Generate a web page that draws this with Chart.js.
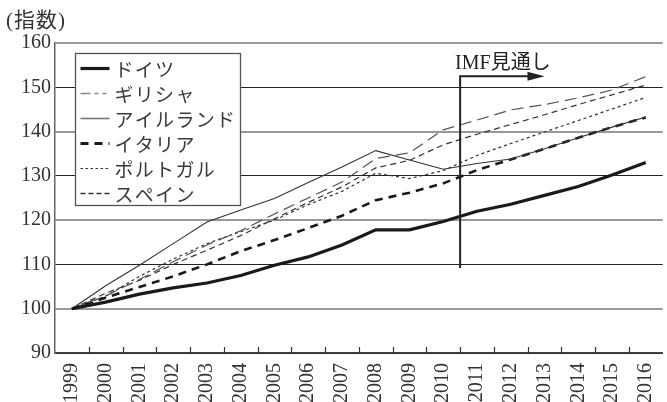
<!DOCTYPE html>
<html>
<head>
<meta charset="utf-8">
<script src="https://cdn.jsdelivr.net/npm/chart.js@4.4.1/dist/chart.umd.min.js"></script>
<style>
  html, body { margin: 0; padding: 0; background: #fff; overflow: hidden; }
  #wrap { position: relative; width: 680px; height: 402px; }
</style>
</head>
<body>
<div id="wrap"><canvas id="c"></canvas></div>
<script>
const years = ['1999','2000','2001','2002','2003','2004','2005','2006','2007','2008','2009','2010','2011','2012','2013','2014','2015','2016'];
const seriesNames = ['ドイツ','ギリシャ','アイルランド','イタリア','ポルトガル','スペイン'];
const germany  = [100,101.5,103.3,104.7,105.8,107.5,109.8,111.7,114.4,117.8,117.8,119.7,122.0,123.6,125.6,127.6,130.2,133.0];
const greece   = [100,102.9,106.6,110.6,114.4,117.6,121.4,125.0,128.6,133.9,135.2,140.4,142.6,144.9,146.1,147.6,149.4,152.4];
const ireland  = [100,105.2,109.8,114.7,119.6,122.3,124.9,128.5,132.0,135.7,133.6,131.5,132.8,133.8,136.1,138.6,141.0,143.3];
const italy    = [100,102.5,104.9,107.3,110.0,113.0,115.5,118.2,121.0,124.5,126.2,128.3,131.3,133.7,136.1,138.6,141.0,143.2];
const portugal = [100,102.8,107.3,111.2,114.7,117.4,120.0,123.5,126.5,130.6,129.4,131.2,134.6,137.3,139.9,142.5,145.1,147.7];
const spain    = [100,103.5,106.4,110.0,113.2,116.5,120.3,124.0,127.5,131.8,133.5,137.0,139.4,141.6,143.8,146.1,148.3,150.5];
const yMin = 90, yMax = 160, yStep = 10;
const yTitle = '(指数)';
const forecastLabel = 'IMF見通し';

const styles = [
  { color: '#1a1a1a', width: 3.2, dash: [] },
  { color: '#555555', width: 1.2, dash: [12, 6] },
  { color: '#333333', width: 1.1, dash: [] },
  { color: '#1a1a1a', width: 2.6, dash: [8, 6] },
  { color: '#333333', width: 1.2, dash: [3, 3] },
  { color: '#333333', width: 1.2, dash: [6, 4] }
];
const legendStyles = [
  { color: '#1a1a1a', width: 3.2, dash: [] },
  { color: '#888888', width: 1.6, dash: [10, 4, 4, 4, 4, 4] },
  { color: '#777777', width: 1.6, dash: [] },
  { color: '#1a1a1a', width: 2.8, dash: [8, 6] },
  { color: '#333333', width: 1.2, dash: [2.5, 2.5] },
  { color: '#333333', width: 1.4, dash: [5, 3] }
];
const allSeries = [germany, greece, ireland, italy, portugal, spain];

const datasets = allSeries.map((d, i) => ({
  label: seriesNames[i],
  data: d,
  borderColor: styles[i].color,
  borderWidth: styles[i].width,
  borderDash: styles[i].dash,
  pointRadius: 0,
  tension: 0,
  fill: false
}));

const overlay = {
  id: 'overlay',
  afterDatasetsDraw(chart) {
    const ctx = chart.ctx;
    const xs = chart.scales.x, ys = chart.scales.y;
    const area = chart.chartArea;
    ctx.save();
    // inward ticks on x axis between categories
    ctx.strokeStyle = '#333';
    ctx.lineWidth = 1.2;
    ctx.setLineDash([]);
    for (let i = 0; i < years.length - 1; i++) {
      const x = Math.round((xs.getPixelForValue(i) + xs.getPixelForValue(i + 1)) / 2) + 0.5;
      ctx.beginPath();
      ctx.moveTo(x, area.bottom);
      ctx.lineTo(x, area.bottom - 6);
      ctx.stroke();
    }
    // legend box
    const bx = 75.5, by = 53.5, bw = 165, bh = 152;
    ctx.fillStyle = '#fff';
    ctx.fillRect(bx, by, bw, bh);
    ctx.strokeStyle = '#555';
    ctx.lineWidth = 1.3;
    ctx.strokeRect(bx, by, bw, bh);
    ctx.font = '19px "Noto Sans CJK JP"';
    ctx.textBaseline = 'middle';
    ctx.textAlign = 'left';
    try { ctx.letterSpacing = '1.3px'; } catch (e) {}
    seriesNames.forEach((name, i) => {
      const yy = by + 15 + i * 25;
      const st = legendStyles[i];
      ctx.strokeStyle = st.color;
      ctx.lineWidth = st.width;
      ctx.setLineDash(st.dash);
      ctx.beginPath();
      ctx.moveTo(bx + 5, yy);
      ctx.lineTo(bx + 34, yy);
      ctx.stroke();
      ctx.setLineDash([]);
      ctx.fillStyle = '#3a3a3a';
      ctx.fillText(name, bx + 39, yy + 1);
    });
    try { ctx.letterSpacing = '0px'; } catch (e) {}
    // IMF forecast arrow
    const ax = (xs.getPixelForValue(11) + xs.getPixelForValue(12)) / 2;
    const aTop = ys.getPixelForValue(152.5);
    const aBot = ys.getPixelForValue(109.2);
    const tip = xs.getPixelForValue(14);
    ctx.strokeStyle = '#222';
    ctx.lineWidth = 2;
    ctx.beginPath();
    ctx.moveTo(ax, aBot);
    ctx.lineTo(ax, aTop);
    ctx.lineTo(tip - 14, aTop);
    ctx.stroke();
    ctx.fillStyle = '#222';
    ctx.beginPath();
    ctx.moveTo(tip, aTop);
    ctx.lineTo(tip - 17, aTop - 4.5);
    ctx.lineTo(tip - 17, aTop + 4.5);
    ctx.closePath();
    ctx.fill();
    ctx.font = '20px "Liberation Serif", "Noto Sans CJK JP"';
    ctx.fillStyle = '#222';
    ctx.textBaseline = 'alphabetic';
    ctx.fillText(forecastLabel, ax - 5, aTop - 7);
    // y title
    ctx.font = '21px "Liberation Serif", "Noto Sans CJK JP"';
    ctx.fillStyle = '#333';
    try { ctx.letterSpacing = '1px'; } catch (e) {}
    ctx.fillText(yTitle, 6, 27);
    ctx.restore();
  }
};

new Chart(document.getElementById('c'), {
  type: 'line',
  data: { labels: years, datasets },
  options: {
    responsive: true,
    maintainAspectRatio: false,
    animation: false,
    layout: { padding: { left: 0, top: 43, right: 7, bottom: 0 } },
    plugins: { legend: { display: false }, tooltip: { enabled: false } },
    scales: {
      x: {
        type: 'category',
        offset: true,
        afterFit: (s) => { s.height = 49; },
        grid: { display: false, drawTicks: false },
        border: { display: true, color: '#444', width: 1.5 },
        ticks: {
          minRotation: 90, maxRotation: 90, autoSkip: false, padding: 10,
          color: '#333', font: { family: 'Liberation Serif', size: 20 }
        }
      },
      y: {
        min: yMin, max: yMax,
        afterFit: (s) => { s.width = 55; },
        ticks: {
          stepSize: yStep, padding: 4, color: '#333',
          font: { family: 'Liberation Serif', size: 20 }
        },
        grid: {
          drawTicks: false,
          color: (c) => (c.tick && c.tick.value % 20 === 0) ? '#999' : '#222',
          lineWidth: (c) => (c.tick && c.tick.value % 20 === 0) ? 2 : 1
        },
        border: { display: true, color: '#666', width: 1.5 }
      }
    }
  },
  plugins: [overlay]
});
</script>
</body>
</html>
